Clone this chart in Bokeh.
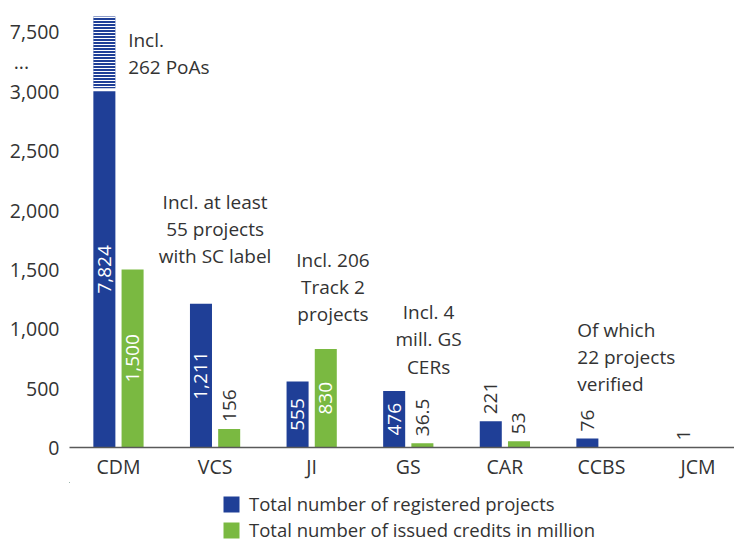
import math
from bokeh.plotting import figure
from bokeh.layouts import column
from bokeh.models import (ColumnDataSource, Range1d, FixedTicker, Legend, LegendItem,
                          NumeralTickFormatter)
from bokeh.core.properties import value
from bokeh.embed import file_html
from bokeh.resources import INLINE

# ---------------- data ----------------
categories = ["CDM", "VCS", "JI", "GS", "CAR", "CCBS", "JCM"]
registered_projects = [7824, 1211, 555, 476, 221, 76, 1]
issued_credits = [1500, 156, 830, 36.5, 53, None, None]
y_tick_values = [0, 500, 1000, 1500, 2000, 2500, 3000]
break_tick_labels = ["...", "7,500"]
series_names = ["Total number of registered projects",
                "Total number of issued credits in million"]
annotations = [
    ("CDM", "Incl.\n262 PoAs"),
    ("VCS", "Incl. at least\n55 projects\nwith SC label"),
    ("JI", "Incl. 206\nTrack 2\nprojects"),
    ("GS", "Incl. 4\nmill. GS\nCERs"),
    ("CCBS", "Of which\n22 projects\nverified"),
]

# ---------------- styling / layout ----------------
BLUE = "#1F3F97"
GREEN = "#7AB941"
TEXT = "#333333"
AXIS = "#595959"
FONT = "Open Sans"
TICK_FS = "19.5px"
FS = "19px"
LEG_FS = "18.5px"

BREAK_AT = 3000          # axis is broken above this value
BREAK_TICKS = [3250, 3500]
BREAK_TOP_VALUE = 7500   # value shown at the top break tick
UPPER_SCALE = 0.4        # compression above the break

def display(v):
    if v <= BREAK_AT:
        return v
    return BREAK_TICKS[-1] + (v - BREAK_TOP_VALUE) * UPPER_SCALE

def fmt(v):
    return f"{v:,g}"

OFFSET = 0.146
BAR_W = 0.228
INSIDE_MIN = 300
FIG_W = 734
LEFT = 69
NBSP_PAD = "\u00a0" * 6   # keeps the "..." break mark left-aligned like the original

p = figure(width=FIG_W, height=482, min_border_left=LEFT, min_border_right=0,
           min_border_top=10, min_border_bottom=32, output_backend="svg",
           toolbar_location=None,
           x_range=Range1d(-0.507, 6.377), y_range=Range1d(0, 3680))
p.outline_line_color = None
p.grid.grid_line_color = None
p.background_fill_color = "white"

idx = list(range(len(categories)))

# blue bars (solid part, capped at the break)
blue_src = ColumnDataSource(dict(
    x=[i - OFFSET for i in idx],
    top=[min(display(v), BREAK_AT) for v in registered_projects],
))
p.vbar(x="x", top="top", bottom=0, width=BAR_W, source=blue_src,
       fill_color=BLUE, line_color=None)

# striped part above the break
over = [i for i, v in zip(idx, registered_projects) if v > BREAK_AT]
over_src = ColumnDataSource(dict(
    x=[i - OFFSET for i in over],
    top=[display(registered_projects[i]) for i in over],
    bottom=[BREAK_AT + 25 for i in over],
))
p.vbar(x="x", top="top", bottom="bottom", width=BAR_W, source=over_src,
       fill_color=BLUE, line_color=None, hatch_pattern="horizontal_line",
       hatch_color="white", hatch_scale=3.0, hatch_weight=1.0)

# green bars
g_idx = [i for i, v in zip(idx, issued_credits) if v is not None]
green_src = ColumnDataSource(dict(
    x=[i + OFFSET for i in g_idx],
    top=[issued_credits[i] for i in g_idx],
))
p.vbar(x="x", top="top", bottom=0, width=BAR_W, source=green_src,
       fill_color=GREEN, line_color=None)

# value labels
in_x, in_y, in_t, out_x, out_y, out_t = [], [], [], [], [], []
for off, vals in ((-OFFSET, registered_projects), (OFFSET, issued_credits)):
    for i, v in zip(idx, vals):
        if v is None:
            continue
        h = min(display(v), BREAK_AT)
        if h >= INSIDE_MIN:
            in_x.append(i + off); in_y.append(h / 2); in_t.append(fmt(v))
        else:
            out_x.append(i + off); out_y.append(h); out_t.append(fmt(v))

p.text(x=in_x, y=in_y, text=in_t, angle=math.pi / 2, text_align="center",
       text_baseline="middle", text_color="white", text_font=value(FONT),
       text_font_size=FS)
p.text(x=out_x, y=out_y, text=out_t, angle=math.pi / 2, text_align="left",
       text_baseline="middle", y_offset=-7, text_color=TEXT, text_font=value(FONT),
       text_font_size=FS)

# annotations (placement only: x offset from category, top y, alignment)
ann_pos = {
    "CDM": (0.10, 3545, "left"),
    "VCS": (0.0, 2180, "center"),
    "JI": (0.22, 1690, "center"),
    "GS": (0.21, 1250, "center"),
    "CCBS": (-0.25, 1100, "left"),
}
for cat, txt in annotations:
    dx, y, align = ann_pos[cat]
    p.text(x=[categories.index(cat) + dx], y=[y], text=[txt], text_align=align,
           text_baseline="top", text_color=TEXT, text_font=value(FONT),
           text_font_size=FS, text_line_height=1.05)

# axes
p.xaxis.ticker = FixedTicker(ticks=idx)
p.xaxis.major_label_overrides = {i: c for i, c in zip(idx, categories)}
p.xaxis.axis_line_color = AXIS
p.xaxis.axis_line_width = 1.5
p.xaxis.major_tick_line_color = None
p.xaxis.minor_tick_line_color = None
p.xaxis.major_tick_in = 0
p.xaxis.major_tick_out = 0
p.xaxis.major_label_standoff = 5
p.xaxis.major_label_text_font = FONT
p.xaxis.major_label_text_font_size = TICK_FS
p.xaxis.major_label_text_color = TEXT

p.yaxis.ticker = FixedTicker(ticks=y_tick_values + BREAK_TICKS)
p.yaxis.formatter = NumeralTickFormatter(format="0,0")
p.yaxis.major_label_overrides = {
    BREAK_TICKS[0]: break_tick_labels[0] + NBSP_PAD,
    BREAK_TICKS[1]: break_tick_labels[1],
}
p.yaxis.axis_line_color = None
p.yaxis.major_tick_line_color = None
p.yaxis.minor_tick_line_color = None
p.yaxis.major_tick_in = 0
p.yaxis.major_tick_out = 0
p.yaxis.major_label_standoff = 10
p.yaxis.major_label_text_font = FONT
p.yaxis.major_label_text_font_size = TICK_FS
p.yaxis.major_label_text_color = TEXT

# ---------------- legend strip below the chart ----------------
# Key renderers reuse the bar data with zero width, outside this strip's view,
# so only their legend swatches are drawn.
lf = figure(width=FIG_W, height=60, min_border=0, output_backend="svg",
            toolbar_location=None, x_axis_type=None, y_axis_type=None,
            x_range=Range1d(100, 101), y_range=Range1d(-20, -19))
lf.outline_line_color = None
lf.grid.grid_line_color = None
r_blue_key = lf.vbar(x="x", top="top", width=0, source=blue_src,
                     fill_color=BLUE, line_color=None)
r_green_key = lf.vbar(x="x", top="top", width=0, source=green_src,
                      fill_color=GREEN, line_color=None)

legend = Legend(items=[LegendItem(label=series_names[0], renderers=[r_blue_key]),
                       LegendItem(label=series_names[1], renderers=[r_green_key])],
                orientation="vertical", location=(152, 0),
                label_text_font=FONT, label_text_font_size=LEG_FS, label_text_color=TEXT,
                glyph_width=20, glyph_height=20, spacing=1, padding=0, margin=0,
                border_line_color=None, background_fill_alpha=0, label_standoff=8)
lf.add_layout(legend, "center")

layout = column(p, lf, spacing=0)
open("out.html", "w").write(file_html(layout, INLINE))
